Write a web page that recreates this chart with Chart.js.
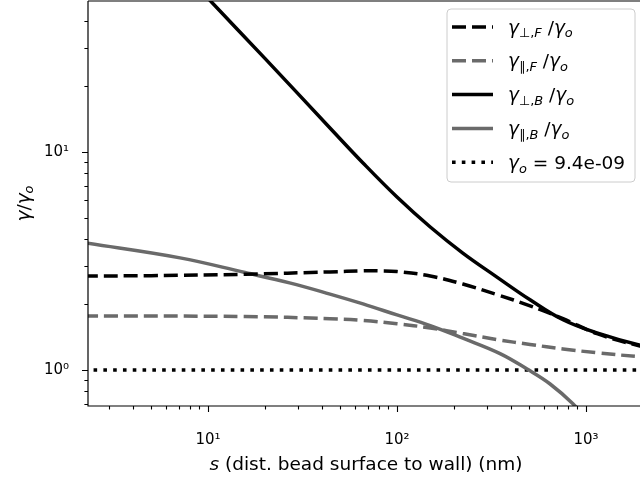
<!DOCTYPE html>
<html>
<head>
<meta charset="utf-8">
<script src="https://cdn.jsdelivr.net/npm/chart.js@4.4.1/dist/chart.umd.min.js"></script>
<style>
  html, body { margin: 0; padding: 0; background: #fff; overflow: hidden; }
  #wrap { width: 650px; height: 479px; }
</style>
</head>
<body>
<div id="wrap"><canvas id="c" width="650" height="479"></canvas></div>
<script>
// ---------------- data ----------------
// s in nm, gamma / gamma_o
const sPerpF = [2.2, 5, 15.7, 44.2, 66.1, 81, 100, 150, 223, 338, 506, 756, 1143, 1932, 2500];
const gPerpF = [2.70, 2.71, 2.75, 2.82, 2.85, 2.85, 2.83, 2.70, 2.48, 2.22, 1.97, 1.72, 1.47, 1.29, 1.25];

const sParaF = [2.2, 15.7, 44.2, 66.1, 100, 150, 223, 338, 506, 756, 1143, 1932, 2500];
const gParaF = [1.77, 1.76, 1.72, 1.69, 1.63, 1.56, 1.47, 1.38, 1.31, 1.25, 1.20, 1.15, 1.13];

const sPerpB = [2.2, 5, 10.2, 20, 44.2, 66.1, 100, 150, 223, 338, 506, 756, 1143, 1932, 2500];
const gPerpB = [214, 97, 49.8, 26.9, 12.9, 8.91, 6.22, 4.53, 3.44, 2.67, 2.10, 1.70, 1.48, 1.30, 1.26];

const sParaB = [2.2, 7.11, 15.7, 27, 44.2, 66.1, 100, 150, 223, 351, 488, 646, 853, 1186];
const gParaB = [3.84, 3.27, 2.80, 2.51, 2.23, 2.01, 1.79, 1.60, 1.40, 1.19, 1.01, 0.863, 0.70, 0.516];

const sRef = [2.2, 2500];
const gRef = [1, 1];
const gammaO = '9.4e-09';

const xMajorTicks = [10, 100, 1000];
const yMajorTicks = [1, 10];
const xTickLabels = ['10\u00B9', '10\u00B2', '10\u00B3'];
const yTickLabels = ['10\u2070', '10\u00B9'];

const xMin = 2.317, xMax = 2182;
const yMin = 0.684, yMax = 49.3;

// ---------------- styling ----------------
const FAM = "'DejaVu Sans', sans-serif";
const GRAY = '#6a6a6a';
const LW = 3.5;
const DASH = [14, 6];
const DOT = [3.6, 6.2];
const TICK_FONT = 15;
const LABEL_FONT = 18.5;

function pts(xs, ys) { return xs.map((x, i) => ({x: x, y: ys[i]})); }

// label segments for rich (math-like) text
const labelPerpF = [{t:'\u03B3', it:1}, {t:'\u22A5,', sub:1}, {t:'F', sub:1, it:1}, {t:' /'}, {t:'\u03B3', it:1}, {t:'o', sub:1, it:1}];
const labelParaF = [{t:'\u03B3', it:1}, {t:'\u2225,', sub:1}, {t:'F', sub:1, it:1}, {t:' /'}, {t:'\u03B3', it:1}, {t:'o', sub:1, it:1}];
const labelPerpB = [{t:'\u03B3', it:1}, {t:'\u22A5,', sub:1}, {t:'B', sub:1, it:1}, {t:' /'}, {t:'\u03B3', it:1}, {t:'o', sub:1, it:1}];
const labelParaB = [{t:'\u03B3', it:1}, {t:'\u2225,', sub:1}, {t:'B', sub:1, it:1}, {t:' /'}, {t:'\u03B3', it:1}, {t:'o', sub:1, it:1}];
const labelRef = [{t:'\u03B3', it:1}, {t:'o', sub:1, it:1}, {t:' = ' + gammaO}];
const xTitle = [{t:'s', it:1}, {t:' (dist. bead surface to wall) (nm)'}];
const yTitle = [{t:'\u03B3', it:1}, {t:'/'}, {t:'\u03B3', it:1}, {t:'o', sub:1, it:1}];

function segFont(seg, size) {
  const s = seg.sub ? size * 0.7 : size;
  return (seg.it ? 'italic ' : '') + s.toFixed(2) + 'px ' + FAM;
}
function richWidth(ctx, segs, size) {
  let w = 0;
  for (const s of segs) { ctx.font = segFont(s, size); w += ctx.measureText(s.t).width; }
  return w;
}
function drawRich(ctx, segs, x, cy, size, align) {
  const w = richWidth(ctx, segs, size);
  let cx = align === 'center' ? x - w / 2 : x;
  const by = cy + 0.36 * size;
  ctx.textBaseline = 'alphabetic';
  ctx.textAlign = 'left';
  ctx.fillStyle = '#000';
  for (const s of segs) {
    ctx.font = segFont(s, size);
    ctx.fillText(s.t, cx, by + (s.sub ? 0.2 * size : 0));
    cx += ctx.measureText(s.t).width;
  }
}

const decorPlugin = {
  id: 'decor',
  afterDraw(chart) {
    const ctx = chart.ctx;
    const a = chart.chartArea;
    const xs = chart.scales.x, ys = chart.scales.y;
    ctx.save();
    // spines
    ctx.strokeStyle = '#000';
    ctx.lineWidth = 1.2;
    ctx.beginPath();
    ctx.moveTo(a.left, a.top); ctx.lineTo(a.right, a.top);
    ctx.moveTo(a.left, a.top); ctx.lineTo(a.left, a.bottom);
    ctx.moveTo(a.left - 0.6, a.bottom); ctx.lineTo(a.right, a.bottom);
    ctx.moveTo(a.right, a.top); ctx.lineTo(a.right, a.bottom);
    ctx.stroke();
    // tick marks (major + minor), placed by the scales
    ctx.lineWidth = 1.1;
    ctx.beginPath();
    for (let e = 0; e <= 4; e++) {
      for (let m = 1; m <= 9; m++) {
        const v = m * Math.pow(10, e);
        if (v < xs.min || v > xs.max) continue;
        const px = Math.round(xs.getPixelForValue(v)) + 0.5;
        const len = m === 1 ? 6 : 3.6;
        ctx.moveTo(px, a.bottom); ctx.lineTo(px, a.bottom + len);
      }
    }
    for (let e = -1; e <= 2; e++) {
      for (let m = 1; m <= 9; m++) {
        const v = m * Math.pow(10, e);
        if (v < ys.min || v > ys.max) continue;
        const py = Math.round(ys.getPixelForValue(v)) + 0.5;
        const len = m === 1 ? 6 : 3.6;
        ctx.moveTo(a.left, py); ctx.lineTo(a.left - len, py);
      }
    }
    ctx.stroke();
    // axis titles
    drawRich(ctx, xTitle, (a.left + 644) / 2, 463, LABEL_FONT, 'center');
    ctx.save();
    ctx.translate(23, (a.top + a.bottom) / 2);
    ctx.rotate(-Math.PI / 2);
    drawRich(ctx, yTitle, 0, 0, LABEL_FONT, 'center');
    ctx.restore();
    // legend
    const lx0 = 447, ly0 = 9, lx1 = 635, ly1 = 182, r = 4;
    ctx.beginPath();
    ctx.moveTo(lx0 + r, ly0);
    ctx.arcTo(lx1, ly0, lx1, ly1, r);
    ctx.arcTo(lx1, ly1, lx0, ly1, r);
    ctx.arcTo(lx0, ly1, lx0, ly0, r);
    ctx.arcTo(lx0, ly0, lx1, ly0, r);
    ctx.closePath();
    ctx.fillStyle = 'rgba(255,255,255,0.8)';
    ctx.fill();
    ctx.strokeStyle = '#cccccc';
    ctx.lineWidth = 1;
    ctx.stroke();
    chart.data.datasets.forEach((ds, i) => {
      const cy = 27 + i * 33.8;
      ctx.save();
      ctx.strokeStyle = ds.borderColor;
      ctx.lineWidth = ds.borderWidth;
      ctx.lineCap = 'butt';
      ctx.setLineDash(ds.borderDash || []);
      ctx.beginPath();
      ctx.moveTo(452, cy); ctx.lineTo(493, cy);
      ctx.stroke();
      ctx.restore();
      drawRich(ctx, ds.richLabel, 508, cy, LABEL_FONT, 'left');
    });
    ctx.restore();
  }
};

const common = { pointRadius: 0, pointHoverRadius: 0, fill: false, cubicInterpolationMode: 'default', tension: 0.4, borderWidth: LW, borderCapStyle: 'butt', clip: 0 };

new Chart(document.getElementById('c'), {
  type: 'line',
  data: {
    datasets: [
      Object.assign({}, common, { label: 'γ⊥,F /γo', richLabel: labelPerpF, data: pts(sPerpF, gPerpF), borderColor: '#000', borderDash: DASH }),
      Object.assign({}, common, { label: 'γ∥,F /γo', richLabel: labelParaF, data: pts(sParaF, gParaF), borderColor: GRAY, borderDash: DASH }),
      Object.assign({}, common, { label: 'γ⊥,B /γo', richLabel: labelPerpB, data: pts(sPerpB, gPerpB), borderColor: '#000' }),
      Object.assign({}, common, { label: 'γ∥,B /γo', richLabel: labelParaB, data: pts(sParaB, gParaB), borderColor: GRAY }),
      Object.assign({}, common, { label: 'γo = ' + gammaO, richLabel: labelRef, data: pts(sRef, gRef), borderColor: '#000', borderDash: DOT, tension: 0 })
    ]
  },
  options: {
    responsive: false,
    animation: false,
    devicePixelRatio: 1,
    layout: { padding: { top: 1, left: 0, right: 0, bottom: 0 } },
    plugins: { legend: { display: false }, tooltip: { enabled: false } },
    scales: {
      x: {
        type: 'logarithmic',
        min: xMin, max: xMax, bounds: 'data',
        grid: { display: false, drawTicks: false },
        border: { display: false },
        afterBuildTicks: (s) => { s.ticks = xMajorTicks.map(v => ({ value: v, major: true })); },
        afterFit: (s) => { s.height = 73; s.paddingLeft = 0; s.paddingRight = 0; s.paddingTop = 0; s.paddingBottom = 0; },
        ticks: {
          autoSkip: false, maxRotation: 0, padding: 25, color: '#000',
          font: { family: FAM, size: TICK_FONT },
          callback: (v) => { const i = xMajorTicks.indexOf(v); return i >= 0 ? xTickLabels[i] : null; }
        }
      },
      y: {
        type: 'logarithmic',
        min: yMin, max: yMax, bounds: 'data',
        grid: { display: false, drawTicks: false },
        border: { display: false },
        afterBuildTicks: (s) => { s.ticks = yMajorTicks.map(v => ({ value: v, major: true })); },
        afterFit: (s) => { s.width = 88; s.paddingLeft = 0; s.paddingRight = 0; s.paddingTop = 0; s.paddingBottom = 0; },
        ticks: {
          autoSkip: false, padding: 19, color: '#000',
          font: { family: FAM, size: TICK_FONT },
          callback: (v) => { const i = yMajorTicks.indexOf(v); return i >= 0 ? yTickLabels[i] : null; }
        }
      }
    }
  },
  plugins: [decorPlugin]
});
</script>
</body>
</html>
